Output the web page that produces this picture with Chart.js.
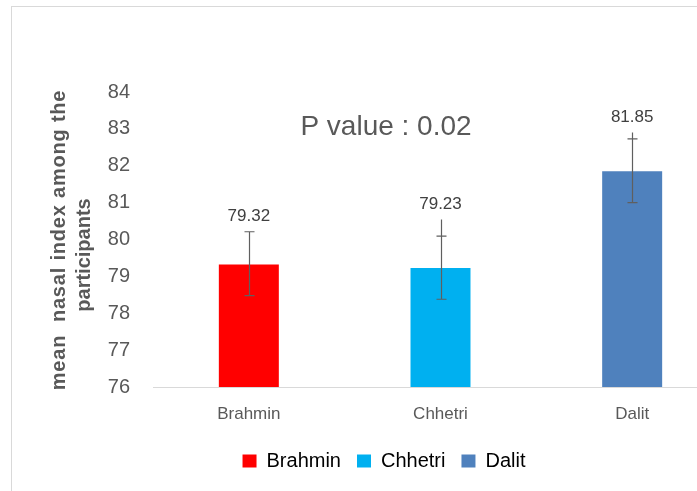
<!DOCTYPE html>
<html>
<head>
<meta charset="utf-8">
<script src="https://cdn.jsdelivr.net/npm/chart.js@4/dist/chart.umd.min.js"></script>
<style>
  html, body { margin: 0; padding: 0; background: #fff; overflow: hidden; }
  #box { position: absolute; left: 0; top: 0; width: 768px; height: 491px; }
</style>
</head>
<body>
<div id="box"><canvas id="nasalChart"></canvas></div>
<script>
// --- data ---
const groups = ['Brahmin', 'Chhetri', 'Dalit'];
const meanIndex = [79.32, 79.23, 81.85];
const errUpper = [80.21, 80.09, 82.73];
const errLower = [78.48, 78.38, 81.00];
const errStemTop = [80.21, 80.54, 82.90];
const yTicks = [76, 77, 78, 79, 80, 81, 82, 83, 84];
const pValueText = 'P value : 0.02';
const yTitleLines = ['mean  nasal index among the', 'participants'];

const barColors = ['#ff0000', '#00b0f0', '#4f81bd'];
const textGrey = '#595959';
const fontName = "'Liberation Sans', Arial, sans-serif";

// error bars, value labels, p-value note, axis title and frame
const extras = {
    id: 'extras',
    beforeDraw(chart) {
        const c = chart.ctx;
        c.save();
        c.strokeStyle = '#d9d9d9';
        c.lineWidth = 1;
        c.strokeRect(11.5, 6.5, 800, 600);
        c.restore();
    },
    afterDatasetsDraw(chart) {
        const c = chart.ctx;
        const y = chart.scales.y;
        const bars = chart.getDatasetMeta(0).data;
        c.save();
        c.strokeStyle = '#5f5f5f';
        c.lineWidth = 1.2;
        bars.forEach((bar, i) => {
            const x = Math.round(bar.x) + 0.5;
            const top = y.getPixelForValue(errStemTop[i]);
            const up = y.getPixelForValue(errUpper[i]);
            const lo = y.getPixelForValue(errLower[i]);
            c.beginPath();
            c.moveTo(x, top); c.lineTo(x, lo);
            c.moveTo(x - 5, up); c.lineTo(x + 5, up);
            c.moveTo(x - 5, lo); c.lineTo(x + 5, lo);
            c.stroke();

            c.fillStyle = '#404040';
            c.font = '17px ' + fontName;
            c.textAlign = 'center';
            c.textBaseline = 'middle';
            c.fillText(meanIndex[i].toFixed(2), bar.x, top - 15);
        });

        c.fillStyle = textGrey;
        c.font = '28px ' + fontName;
        c.textAlign = 'center';
        c.textBaseline = 'alphabetic';
        c.fillText(pValueText, 386, 135);

        c.font = 'bold 20px ' + fontName;
        c.save();
        c.letterSpacing = '0.8px';
        c.translate(65, 240);
        c.rotate(-Math.PI / 2);
        c.fillText(yTitleLines[0], 0, 0);
        c.restore();
        c.save();
        c.translate(90, 255);
        c.rotate(-Math.PI / 2);
        c.fillText(yTitleLines[1], 0, 0);
        c.restore();
        c.restore();
    }
};

new Chart(document.getElementById('nasalChart').getContext('2d'), {
    type: 'bar',
    data: {
        labels: groups,
        datasets: [{
            label: 'mean nasal index',
            data: meanIndex,
            backgroundColor: barColors,
            barPercentage: 0.313,
            categoryPercentage: 1
        }]
    },
    options: {
        responsive: true,
        maintainAspectRatio: false,
        animation: false,
        layout: { padding: { left: 0, right: 0, top: 92, bottom: 10 } },
        scales: {
            y: {
                min: 76, max: 84,
                afterBuildTicks: axis => { axis.ticks = yTicks.map(v => ({ value: v })); },
                afterFit: axis => { axis.width = 153; },
                grid: { display: false, drawTicks: false },
                border: { display: false },
                ticks: { color: textGrey, padding: 23, font: { family: fontName, size: 20 } }
            },
            // empty right-hand gutter so the legend centres like the original
            yGutter: {
                position: 'right',
                min: 76, max: 84,
                afterFit: axis => { axis.width = 40; },
                grid: { display: false, drawTicks: false },
                border: { display: false },
                ticks: { display: false }
            },
            x: {
                afterFit: axis => { axis.height = 48; },
                grid: { display: false, drawTicks: false },
                border: { display: true, color: '#d9d9d9' },
                ticks: { color: textGrey, padding: 17, font: { family: fontName, size: 17 } }
            }
        },
        plugins: {
            tooltip: { enabled: false },
            legend: {
                position: 'bottom',
                labels: {
                    color: textGrey,
                    boxWidth: 14,
                    boxHeight: 13,
                    padding: 16,
                    font: { family: fontName, size: 20 },
                    generateLabels: () => groups.map((g, i) => ({
                        text: g, fillStyle: barColors[i], strokeStyle: barColors[i], lineWidth: 0, index: i
                    }))
                }
            }
        }
    },
    plugins: [extras]
});
</script>
</body>
</html>
